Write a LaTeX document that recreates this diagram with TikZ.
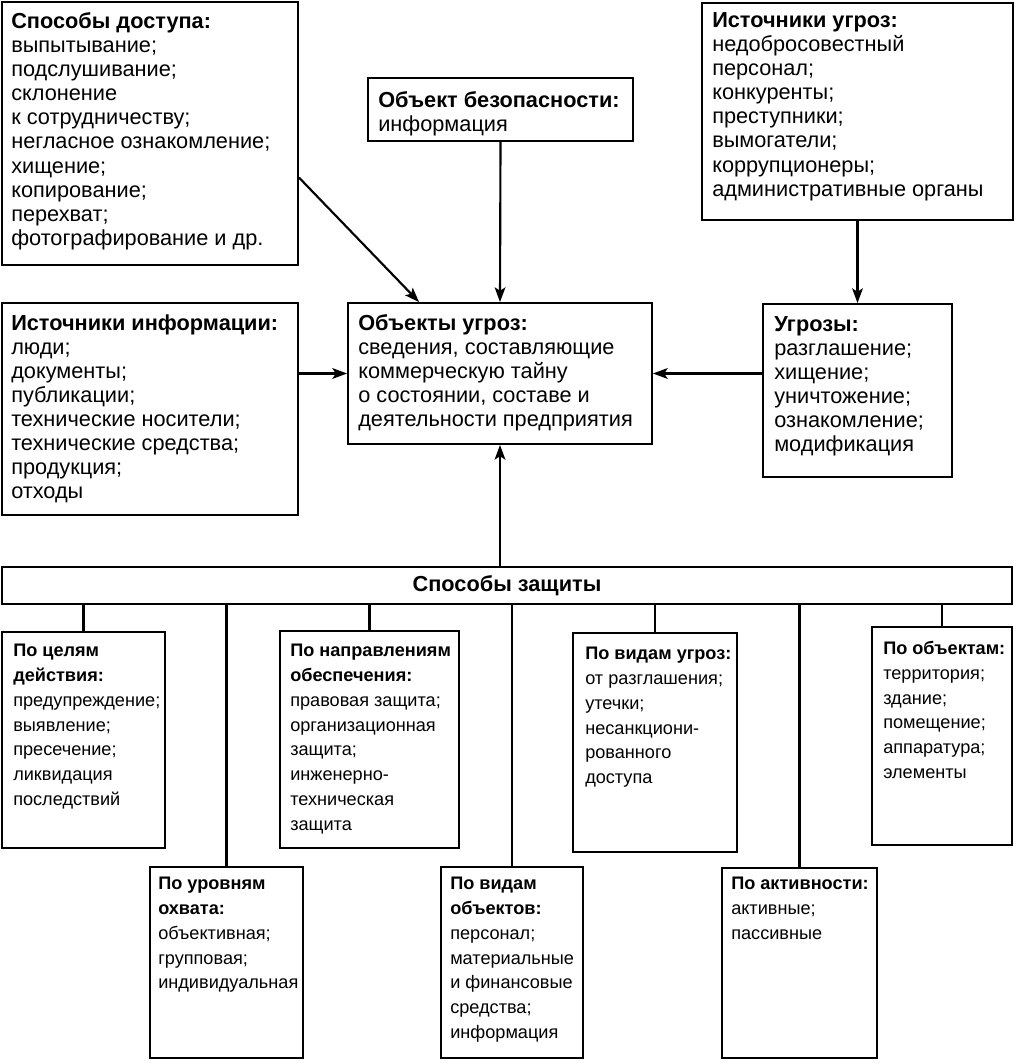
\documentclass[tikz,border=0pt]{standalone}
\usepackage{fontspec}
\setmainfont{Liberation Sans}
\usetikzlibrary{arrows.meta,fit,calc}

\newcommand{\topfont}{\fontsize{16.3}{18.1}\selectfont}
\newcommand{\lowfont}{\fontsize{13.6}{18.6}\selectfont}

\tikzset{
  boxframe/.style={draw, line width=1.4pt, inner sep=0pt},
  toptext/.style={anchor=north west, align=left, inner sep=0pt, font=\topfont},
  lowtext/.style={anchor=north west, align=left, inner sep=0pt, font=\lowfont},
  link/.style={line width=1.6pt},
  arr/.style={line width=1.6pt, -{Stealth[length=11pt, width=8pt, inset=2.5pt]}},
}

\begin{document}
\begin{tikzpicture}[x=0.75pt, y=-0.75pt]
    \fill[white] (0,0) rectangle (1016,1064);
    \useasboundingbox (0,0) rectangle (1016,1064);

    % upper part
    \node[boxframe, fit={(2,2) (298,265)}] (access) {};
    \node[toptext] (accesstxt) at (11,12) {\textbf{Способы доступа:}\\выпытывание;\\подслушивание;\\склонение\\к сотрудничеству;\\негласное ознакомление;\\хищение;\\копирование;\\перехват;\\фотографирование и др.};

    \node[boxframe, fit={(368,78) (633,141)}] (safety) {};
    \node[toptext] (safetytxt) at (378,91) {\textbf{Объект безопасности:}\\информация};

    \node[boxframe, fit={(702,3) (1013,220)}] (tsources) {};
    \node[toptext] (tsourcestxt) at (712,12) {\textbf{Источники угроз:}\\недобросовестный\\персонал;\\конкуренты;\\преступники;\\вымогатели;\\коррупционеры;\\административные органы};

    \node[boxframe, fit={(2,303) (298,515)}] (info) {};
    \node[toptext] (infotxt) at (11,314) {\textbf{Источники информации:}\\люди;\\документы;\\публикации;\\технические носители;\\технические средства;\\продукция;\\отходы};

    \node[boxframe, fit={(348,303) (652,444)}] (threatobj) {};
    \node[toptext] (threatobjtxt) at (358,314) {\textbf{Объекты угроз:}\\сведения, составляющие\\коммерческую тайну\\о состоянии, составе и\\деятельности предприятия};

    \node[boxframe, fit={(763,304) (952,477)}] (threats) {};
    \node[toptext] (threatstxt) at (774,316) {\textbf{Угрозы:}\\разглашение;\\хищение;\\уничтожение;\\ознакомление;\\модификация};

    \draw[arr] ([shift={(0,44)}]access.east) -- ([shift={(72,0)}]threatobj.north west);
    \draw[arr] (safety.south) -- (threatobj.north);
    \draw[arr] (tsources.south) -- (threats.north);
    \draw[arr] (threatobj.west -| info.east) -- (threatobj.west);
    \draw[arr] (threatobj.east -| threats.west) -- (threatobj.east);

    % protection
    \node[boxframe, fit={(2,567) (1012,604)}] (bar) {};
    \node[font=\topfont\bfseries] (bartxt) at (507,586) {Способы защиты};
    \draw[arr] (threatobj.south |- bar.north) -- (threatobj.south);

    \node[boxframe, fit={(2,632) (165,848)}] (goals) {};
    \node[lowtext] (goalstxt) at (13,644) {\textbf{По целям}\\\textbf{действия:}\\предупреждение;\\выявление;\\пресечение;\\ликвидация\\последствий};

    \node[boxframe, fit={(280,631) (459,848)}] (directions) {};
    \node[lowtext] (directionstxt) at (290,644) {\textbf{По направлениям}\\\textbf{обеспечения:}\\правовая защита;\\организационная\\защита;\\инженерно-\\техническая\\защита};

    \node[boxframe, fit={(573,633) (737,852)}] (thrkinds) {};
    \node[lowtext] (thrkindstxt) at (585,647) {\textbf{По видам угроз:}\\от разглашения;\\утечки;\\несанкциони-\\рованного\\доступа};

    \node[boxframe, fit={(872,627) (1012,845)}] (objects) {};
    \node[lowtext] (objectstxt) at (883,641) {\textbf{По объектам:}\\территория;\\здание;\\помещение;\\аппаратура;\\элементы};

    \node[boxframe, fit={(150,867) (303,1058)}] (coverage) {};
    \node[lowtext] (coveragetxt) at (158,877) {\textbf{По уровням}\\\textbf{охвата:}\\объективная;\\групповая;\\индивидуальная};

    \node[boxframe, fit={(441,867) (583,1058)}] (objkinds) {};
    \node[lowtext] (objkindstxt) at (450,877) {\textbf{По видам}\\\textbf{объектов:}\\персонал;\\материальные\\и финансовые\\средства;\\информация};

    \node[boxframe, fit={(722,868) (877,1058)}] (activity) {};
    \node[lowtext] (activitytxt) at (731,877) {\textbf{По активности:}\\активные;\\пассивные};

    \foreach \b in {goals,coverage,directions,objkinds,thrkinds,activity,objects}
        \draw[link] (\b.north |- bar.south) -- (\b.north);
\end{tikzpicture}
\end{document}
